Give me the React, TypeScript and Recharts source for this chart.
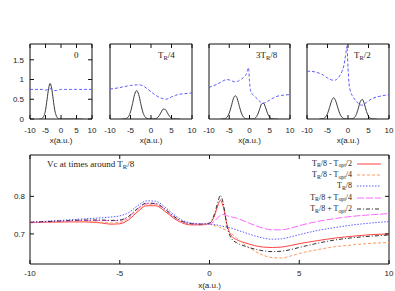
import React from 'react';
import { LineChart, Line, XAxis, YAxis, Legend, ReferenceArea } from 'recharts';

const SANS = '"Liberation Sans", Arial, sans-serif';
const SERIF = '"Liberation Serif", "Times New Roman", serif';
const INK = '#222';
const EDGE = '#111';

// ---- top row: potential (blue dashed) and density (black) at four times ----
const potX = [-10, -9, -8, -7, -6, -5.5, -5, -4.5, -4, -3.5, -3, -2.5, -2, -1.5, -1, -0.75, -0.5, -0.25, 0, 0.25, 0.5, 0.75, 1, 1.5, 2, 2.5, 3, 3.5, 4, 4.5, 5, 6, 7, 8, 9, 10];
const potT0 = [0.75, 0.75, 0.75, 0.75, 0.75, 0.74, 0.73, 0.74, 0.76, 0.77, 0.76, 0.74, 0.72, 0.72, 0.73, 0.735, 0.74, 0.745, 0.75, 0.75, 0.75, 0.75, 0.75, 0.75, 0.75, 0.75, 0.75, 0.75, 0.75, 0.75, 0.75, 0.75, 0.75, 0.75, 0.75, 0.75];
const potT1 = [0.76, 0.77, 0.79, 0.81, 0.83, 0.84, 0.85, 0.855, 0.86, 0.865, 0.87, 0.86, 0.84, 0.81, 0.77, 0.75, 0.73, 0.71, 0.69, 0.67, 0.65, 0.63, 0.61, 0.58, 0.55, 0.53, 0.51, 0.5, 0.51, 0.53, 0.56, 0.6, 0.63, 0.64, 0.65, 0.66];
const potT2 = [0.8, 0.84, 0.88, 0.94, 0.99, 1.0, 0.99, 0.97, 0.95, 0.94, 0.95, 0.98, 1.01, 1.05, 1.1, 1.15, 1.23, 1.3, 0.95, 0.72, 0.66, 0.62, 0.6, 0.55, 0.5, 0.45, 0.41, 0.4, 0.42, 0.45, 0.48, 0.54, 0.58, 0.6, 0.61, 0.62];
const potT3 = [1.21, 1.21, 1.19, 1.16, 1.11, 1.07, 1.04, 1.01, 0.99, 0.98, 0.99, 1.03, 1.1, 1.2, 1.36, 1.5, 1.68, 1.85, 1.3, 0.9, 0.74, 0.65, 0.6, 0.52, 0.45, 0.4, 0.36, 0.35, 0.38, 0.42, 0.46, 0.52, 0.56, 0.58, 0.6, 0.61];

const densX = [-7, -6.5, -6, -5.5, -5, -4.5, -4, -3.5, -3, -2.5, -2, -1.5, -1, -0.5, 0, 0.5, 1, 1.5, 2, 2.5, 3, 3.5, 4, 4.5, 5, 5.5, 6, 6.5, 7];
const densT0 = [0, 0.004, 0.02, 0.08, 0.22, 0.49, 0.77, 0.9, 0.77, 0.49, 0.22, 0.08, 0.02, 0.004, 0, 0, 0, 0, 0, 0, 0, 0, 0, 0, 0, 0, 0, 0, 0];
const densT1 = [0, 0.003, 0.015, 0.06, 0.18, 0.39, 0.62, 0.72, 0.62, 0.39, 0.18, 0.06, 0.015, 0.003, 0, 0.001, 0.006, 0.027, 0.084, 0.177, 0.252, 0.242, 0.158, 0.069, 0.021, 0.004, 0.001, 0, 0];
const densT2 = [0, 0.002, 0.012, 0.05, 0.15, 0.32, 0.51, 0.59, 0.51, 0.32, 0.15, 0.05, 0.012, 0.002, 0, 0.001, 0.007, 0.032, 0.109, 0.249, 0.382, 0.397, 0.28, 0.133, 0.043, 0.009, 0.001, 0, 0];
const densT3 = [0, 0.002, 0.011, 0.046, 0.135, 0.29, 0.46, 0.54, 0.46, 0.29, 0.135, 0.046, 0.011, 0.002, 0, 0.001, 0.006, 0.03, 0.108, 0.265, 0.441, 0.496, 0.377, 0.194, 0.068, 0.016, 0.003, 0, 0];

const topLabels = ['0', 'T{R}/4', '3T{R}/8', 'T{R}/2'];
const topXTicks = [-10, -5, 0, 5, 10];
const topYTicks = [0, 0.5, 1, 1.5];

// ---- bottom: Vc at times around T_R/8 ----
const vcX = [-10, -9, -8, -7, -6, -5.5, -5, -4.5, -4, -3.5, -3, -2.5, -2, -1.5, -1, -0.5, 0, 0.25, 0.5, 0.6, 0.75, 1, 1.25, 1.5, 2, 2.5, 3, 3.5, 4, 4.5, 5, 6, 7, 8, 9, 10];
const vcMinusHalf = [0.73, 0.731, 0.732, 0.732, 0.729, 0.726, 0.727, 0.738, 0.759, 0.775, 0.775, 0.761, 0.742, 0.729, 0.724, 0.724, 0.728, 0.745, 0.78, 0.79, 0.775, 0.72, 0.693, 0.685, 0.676, 0.669, 0.665, 0.664, 0.665, 0.669, 0.674, 0.682, 0.689, 0.694, 0.698, 0.7];
const vcMinusQuarter = [0.73, 0.731, 0.732, 0.733, 0.731, 0.729, 0.731, 0.742, 0.763, 0.778, 0.777, 0.763, 0.744, 0.731, 0.726, 0.725, 0.725, 0.722, 0.719, 0.717, 0.714, 0.709, 0.7, 0.69, 0.67, 0.655, 0.643, 0.637, 0.636, 0.641, 0.648, 0.658, 0.666, 0.671, 0.675, 0.677];
const vcCentre = [0.731, 0.734, 0.737, 0.74, 0.743, 0.745, 0.748, 0.757, 0.775, 0.788, 0.787, 0.772, 0.752, 0.736, 0.729, 0.727, 0.726, 0.725, 0.723, 0.722, 0.72, 0.718, 0.715, 0.711, 0.703, 0.695, 0.689, 0.686, 0.687, 0.692, 0.698, 0.709, 0.717, 0.724, 0.729, 0.733];
const vcPlusQuarter = [0.731, 0.732, 0.734, 0.736, 0.736, 0.735, 0.736, 0.746, 0.767, 0.781, 0.78, 0.766, 0.746, 0.732, 0.727, 0.726, 0.727, 0.733, 0.745, 0.75, 0.752, 0.748, 0.745, 0.742, 0.733, 0.723, 0.715, 0.711, 0.711, 0.715, 0.722, 0.733, 0.741, 0.747, 0.751, 0.754];
const vcPlusHalf = [0.731, 0.733, 0.735, 0.737, 0.737, 0.736, 0.737, 0.747, 0.768, 0.782, 0.781, 0.767, 0.747, 0.733, 0.727, 0.726, 0.729, 0.75, 0.79, 0.803, 0.785, 0.715, 0.686, 0.677, 0.667, 0.66, 0.655, 0.653, 0.654, 0.658, 0.664, 0.675, 0.684, 0.69, 0.694, 0.697];
const vcNames = ['T{R}/8 - T{opt}/2', 'T{R}/8 - T{opt}/4', 'T{R}/8', 'T{R}/8 + T{opt}/4', 'T{R}/8 + T{opt}/2'];
const vcXTicks = [-10, -5, 0, 5, 10];
const vcYTicks = [0.7, 0.8];

const zip = (xs: number[], ys: number[]) => xs.map((x, i) => ({ x, y: ys[i] }));

const vcSeries = [
  { name: vcNames[0], data: zip(vcX, vcMinusHalf), color: '#ff4040', dash: undefined },
  { name: vcNames[1], data: zip(vcX, vcMinusQuarter), color: '#ff9a5c', dash: '3 2' },
  { name: vcNames[2], data: zip(vcX, vcCentre), color: '#5a5aff', dash: '1.5 1.5' },
  { name: vcNames[3], data: zip(vcX, vcPlusQuarter), color: '#ff66ff', dash: '7 2' },
  { name: vcNames[4], data: zip(vcX, vcPlusHalf), color: '#333', dash: '4 2 1 2' },
];

// chart placement for the four small panels (plot area is 75px tall)
const panels = [
  { left: 0, width: 100, first: true, labelX: 74, pot: potT0, dens: densT0, label: topLabels[0] },
  { left: 102, width: 98, first: false, labelX: 158, pot: potT1, dens: densT1, label: topLabels[1] },
  { left: 201, width: 97, first: false, labelX: 256, pot: potT2, dens: densT2, label: topLabels[2] },
  { left: 299, width: 98, first: false, labelX: 354, pot: potT3, dens: densT3, label: topLabels[3] },
];

// "T{R}/8" -> T with subscript R
function Rich({ text }: { text: string }) {
  const parts = text.split(/\{([^}]*)\}/);
  return (
    <>
      {parts.map((p, i) =>
        i % 2 ? (
          <span key={i} style={{ fontSize: '0.72em', position: 'relative', top: '0.32em' }}>{p}</span>
        ) : (
          <span key={i}>{p}</span>
        )
      )}
    </>
  );
}

// gnuplot style ticks: inward, mirrored on the opposite border
function XTick(props: any) {
  const { x, y, payload, plotH, gap } = props;
  const base = y - gap;
  return (
    <g>
      <line x1={x} x2={x} y1={base} y2={base - 4} stroke={EDGE} />
      <line x1={x} x2={x} y1={base - plotH} y2={base - plotH + 4} stroke={EDGE} />
      <text x={x} y={y} dy="0.71em" textAnchor="middle" fontSize={8} fill={INK} fontFamily={SANS}>
        {payload.value}
      </text>
    </g>
  );
}

function YTick(props: any) {
  const { x, y, payload, plotW, gap, showLabel } = props;
  const base = x + gap;
  return (
    <g>
      <line x1={base} x2={base + 4} y1={y} y2={y} stroke={EDGE} />
      <line x1={base + plotW} x2={base + plotW - 4} y1={y} y2={y} stroke={EDGE} />
      {showLabel && (
        <text x={x} y={y} dy="0.355em" textAnchor="end" fontSize={8} fill={INK} fontFamily={SANS}>
          {payload.value}
        </text>
      )}
    </g>
  );
}

function Panel({ p }: { p: (typeof panels)[number] }) {
  const plotW = p.width - 8 - (p.first ? 30 : 8);
  return (
    <div style={{ position: 'absolute', left: p.left, top: 40 }}>
      <LineChart width={p.width} height={109} margin={{ top: 4, right: 8, left: p.first ? 0 : 8, bottom: 0 }}>
        <XAxis
          type="number"
          dataKey="x"
          domain={[-10, 10]}
          ticks={topXTicks}
          interval={0}
          allowDataOverflow
          height={30}
          tickSize={0}
          tickMargin={8}
          axisLine={false}
          tickLine={false}
          tick={(t: any) => <XTick {...t} plotH={75} gap={8} />}
          label={{ value: 'x(a.u.)', position: 'insideBottom', offset: 6, fontSize: 8, fill: INK, fontFamily: SANS }}
        />
        <YAxis
          type="number"
          domain={[0, 1.9]}
          ticks={topYTicks}
          interval={0}
          allowDataOverflow
          width={p.first ? 30 : 0}
          tickSize={0}
          tickMargin={p.first ? 6 : 0}
          axisLine={false}
          tickLine={false}
          tick={(t: any) => <YTick {...t} plotW={plotW} gap={p.first ? 6 : 0} showLabel={p.first} />}
        />
        <ReferenceArea x1={-10} x2={10} y1={0} y2={1.9} fill="none" stroke={EDGE} strokeWidth={1} ifOverflow="visible" />
        <Line data={zip(densX, p.dens)} dataKey="y" type="monotone" stroke="#3a3a3a" strokeWidth={1} dot={false} isAnimationActive={false} />
        <Line data={zip(potX, p.pot)} dataKey="y" type="monotone" stroke="#5a5aff" strokeWidth={1} strokeDasharray="3 2" dot={false} isAnimationActive={false} />
      </LineChart>
    </div>
  );
}

function VcLegend() {
  return (
    <div style={{ fontFamily: SERIF, fontSize: 8, color: INK }}>
      {vcSeries.map((s) => (
        <div key={s.name} style={{ display: 'flex', alignItems: 'center', height: 11.3 }}>
          <div style={{ width: 70, textAlign: 'right', whiteSpace: 'nowrap', lineHeight: '10px' }}>
            <Rich text={s.name} />
          </div>
          <svg width={30} height={6} style={{ marginLeft: 4 }}>
            <line x1={1} x2={25} y1={3} y2={3} stroke={s.color} strokeWidth={1} strokeDasharray={s.dash} />
          </svg>
        </div>
      ))}
    </div>
  );
}

export default function App() {
  return (
    <div style={{ position: 'absolute', left: 0, top: 0, width: 395, height: 291, overflow: 'hidden', background: '#fff' }}>
      {panels.map((p) => (
        <Panel key={p.label} p={p} />
      ))}
      {panels.map((p) => (
        <div key={'l' + p.label} style={{ position: 'absolute', left: p.labelX, top: 50, fontFamily: SERIF, fontSize: 9, color: INK, whiteSpace: 'nowrap' }}>
          <Rich text={p.label} />
        </div>
      ))}

      <div style={{ position: 'absolute', left: 0, top: 147 }}>
        <LineChart width={395} height={144} margin={{ top: 8, right: 6, left: 0, bottom: 0 }}>
          <XAxis
            type="number"
            dataKey="x"
            domain={[-10, 10]}
            ticks={vcXTicks}
            interval={0}
            allowDataOverflow
            height={27}
            tickSize={0}
            tickMargin={6}
            axisLine={false}
            tickLine={false}
            tick={(t: any) => <XTick {...t} plotH={109} gap={6} />}
            label={{ value: 'x(a.u.)', position: 'insideBottom', offset: 3, fontSize: 8, fill: INK, fontFamily: SANS }}
          />
          <YAxis
            type="number"
            domain={[0.62, 0.91]}
            ticks={vcYTicks}
            interval={0}
            allowDataOverflow
            width={30}
            tickSize={0}
            tickMargin={5}
            axisLine={false}
            tickLine={false}
            tick={(t: any) => <YTick {...t} plotW={359} gap={5} showLabel />}
          />
          <ReferenceArea x1={-10} x2={10} y1={0.62} y2={0.91} fill="none" stroke={EDGE} strokeWidth={1} ifOverflow="visible" />
          {vcSeries.map((s) => (
            <Line
              key={s.name}
              name={s.name}
              data={s.data}
              dataKey="y"
              type="monotone"
              stroke={s.color}
              strokeWidth={1}
              strokeDasharray={s.dash}
              dot={false}
              isAnimationActive={false}
            />
          ))}
          <Legend layout="horizontal" verticalAlign="middle" align="center" wrapperStyle={{ left: 282, top: 11, width: 110 }} content={() => <VcLegend />} />
        </LineChart>
      </div>

      <div style={{ position: 'absolute', left: 47, top: 159, fontFamily: SERIF, fontSize: 9, color: INK, whiteSpace: 'nowrap' }}>
        Vc at times around <Rich text="T{R}/8" />
      </div>
    </div>
  );
}
